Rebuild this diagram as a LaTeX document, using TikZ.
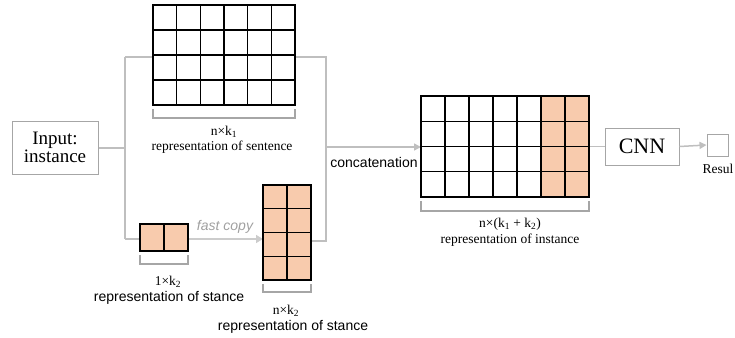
\documentclass[tikz,border=0pt]{standalone}
\usepackage{fontspec}
\setmainfont{Liberation Serif}
\setsansfont{Liberation Sans}
\usetikzlibrary{arrows.meta,calc}
\definecolor{peach}{HTML}{F8CBAD}
\definecolor{lgray}{HTML}{BFBFBF}
\definecolor{bgray}{HTML}{A6A6A6}
\definecolor{tgray}{HTML}{A0A0A0}
\newcommand\cellsV[2]{% node, cols
  \foreach \i in {1,...,#2} {\ifnum\i<#2
    \draw[cellline] ($(#1.north west)!\i/#2!(#1.north east)$) -- ($(#1.south west)!\i/#2!(#1.south east)$);\fi}}
\newcommand\cellsH[2]{% node, rows
  \foreach \i in {1,...,#2} {\ifnum\i<#2
    \draw[cellline] ($(#1.north west)!\i/#2!(#1.south west)$) -- ($(#1.north east)!\i/#2!(#1.south east)$);\fi}}
\begin{document}
\begin{tikzpicture}[x=1pt,y=-1pt,
  conn/.style={draw=lgray, line width=1.5pt},
  arr/.style={conn, -{Triangle[length=7pt,width=7pt]}},
  gbox/.style={draw=bgray, line width=1pt, fill=white, inner sep=0},
  cellarea/.style={inner sep=0, outer sep=0, anchor=north west},
  cellline/.style={draw=black, line width=1.3pt},
  brk/.style={draw=bgray, line width=1.2pt},
  lbl/.style={font=\fontsize{13.5}{15}\selectfont, inner sep=0},
  slbl/.style={font=\sffamily\fontsize{14}{16}\selectfont, inner sep=0},
]
\useasboundingbox (0,0) rectangle (735,337);

% boxes
\node[gbox, minimum width=86pt, minimum height=53pt, align=center,
      font=\fontsize{19}{18.5}\selectfont] (input) at (55,147.5) {Input:\\instance};
\node[gbox, minimum width=74pt, minimum height=37pt, font=\fontsize{22}{24}\selectfont] (cnn) at (642,146.5) {CNN};
\node[gbox, minimum width=21pt, minimum height=22pt] (res) at (717.5,145) {};

% grid areas
\node[cellarea, minimum width=142pt, minimum height=100pt] (sent) at (153,5) {};
\node[cellarea, minimum width=48pt, minimum height=27pt] (small) at (140,224) {};
\node[cellarea, minimum width=48pt, minimum height=95pt] (tall) at (263,185) {};
\node[cellarea, minimum width=168pt, minimum height=101pt] (cat) at (421,96) {};

% junction coordinates
\coordinate (jl) at (125,148);
\coordinate (jlt) at (125,57);
\coordinate (jlb) at (125,239);
\coordinate (jr) at (326,147);
\coordinate (jrt) at (326,57);
\coordinate (jrb) at (326,241);

% connectors
\draw[conn] (input.east |- jl) -- (jl);
\draw[conn] (jlt) -- (jlb);
\draw[conn] (jlt) -- (sent.west |- jlt);
\draw[conn] (jlb) -- (small.west |- jlb);
\draw[conn] (sent.east |- jrt) -- (jrt) -- (jrb) -- (tall.east |- jrb);
\draw[arr] (jr) -- (cat.west |- jr);
\draw[conn, draw=lgray!80, -{Triangle[length=7pt,width=8pt]}] (small.east |- jlb) -- (tall.west |- jlb);
\draw[conn] (cat.east |- cnn) -- (cnn.west);
\draw[arr] (cnn.east) -- (res.west);

% grids
\draw[cellline] (sent.north west) rectangle (sent.south east);
\cellsV{sent}{6}\cellsH{sent}{4}

\fill[peach] (small.north west) rectangle (small.south east);
\draw[cellline] (small.north west) rectangle (small.south east);
\cellsV{small}{2}

\fill[peach] (tall.north west) rectangle (tall.south east);
\draw[cellline] (tall.north west) rectangle (tall.south east);
\cellsV{tall}{2}\cellsH{tall}{4}

\fill[peach] ($(cat.north west)!5/7!(cat.north east)$) rectangle (cat.south east);
\draw[cellline] (cat.north west) rectangle (cat.south east);
\cellsV{cat}{7}\cellsH{cat}{4}

% brackets
\foreach \g/\d in {sent/9, small/9, tall/8, cat/10}
  \draw[brk] ($(\g.south west)+(0,4)$) -- ++(0,\d) -| ($(\g.south east)+(0,4)$);

% labels
\node[lbl] (l1a) at (224,132) {n×k\textsubscript{1}};
\node[lbl] (l1b) at (222,147) {representation of sentence};
\node[lbl] (l2a) at (168,282) {1×k\textsubscript{2}};
\node[slbl] (l2b) at (169,298) {representation of stance};
\node[lbl] (l3a) at (286,311) {n×k\textsubscript{2}};
\node[slbl] (l3b) at (293,327) {representation of stance};
\node[lbl] (l4a) at (510,224) {n×(k\textsubscript{1} + k\textsubscript{2})};
\node[lbl] (l4b) at (510,240) {representation of instance};
\node[slbl] (lc) at (374,162) {concatenation};
\node[slbl, text=tgray, font=\sffamily\itshape\fontsize{14}{16}\selectfont] (lf) at (225,227) {fast copy};
\node[lbl, font=\fontsize{13.5}{15}\selectfont] (lr) at (718,169) {Resul};
\end{tikzpicture}
\end{document}
